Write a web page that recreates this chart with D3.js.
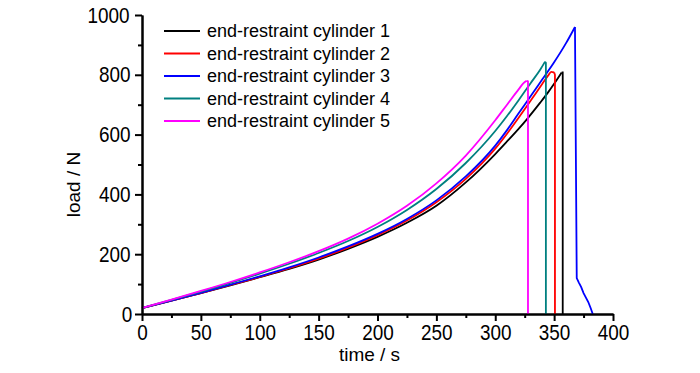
<!DOCTYPE html>
<html>
<head>
<meta charset="UTF-8" />
<script src="https://d3js.org/d3.v7.min.js"></script>
<style>
  body { margin: 0; background: #fff; font-family: "Liberation Sans", Arial, sans-serif; }
  .axis path, .axis line { stroke: #000; stroke-width: 2px; }
  .axis text { font-size: 22px; fill: #000; font-family: "Liberation Sans", Arial, sans-serif;
               transform-box: fill-box; transform-origin: center; transform: scaleX(0.86); }
  .title { font-size: 19px; }
</style>
</head>
<body>
<svg width="700" height="373"></svg>
<script>
  // legend names + colours
  const names = ["end-restraint cylinder 1", "end-restraint cylinder 2", "end-restraint cylinder 3",
                 "end-restraint cylinder 4", "end-restraint cylinder 5"];
  const colors = ["#000000", "#ff0000", "#0000ff", "#008080", "#ff00ff"];

  // time (s) / load (N) per cylinder (rising part)
  const t1 = [0, 25, 50, 75, 100, 125, 150, 175, 200, 225, 250, 275, 300, 310, 320, 327, 338, 345, 350, 356.4];
  const l1 = [20, 45, 70, 96, 123, 151, 182, 218, 258, 305, 362, 440, 535, 577, 620, 652, 706, 742, 770, 808];
  const t2 = [0, 25, 50, 75, 100, 125, 150, 175, 200, 225, 250, 275, 300, 310, 320, 330, 340, 345, 347.5, 350];
  const l2 = [20, 45, 70, 97, 124, 153, 185, 222, 264, 313, 374, 452, 553, 603, 657, 713, 770, 798, 810, 808];
  const t3 = [0, 25, 50, 75, 100, 125, 150, 175, 200, 225, 250, 275, 300, 310, 320, 330, 340, 350, 360, 367.7];
  const l3 = [20, 45, 71, 98, 126, 156, 189, 226, 268, 318, 380, 460, 563, 615, 672, 728, 785, 842, 905, 960];
  const t4 = [0, 25, 50, 75, 100, 125, 150, 175, 200, 225, 250, 275, 300, 310, 320, 330, 338, 342.3];
  const l4 = [20, 47, 75, 104, 135, 168, 204, 244, 291, 348, 418, 505, 612, 662, 716, 772, 816, 844];
  const t5 = [0, 25, 50, 75, 100, 125, 150, 175, 200, 225, 250, 275, 300, 310, 320, 324, 326.7];
  const l5 = [20, 48, 77, 107, 139, 173, 210, 252, 302, 362, 437, 530, 648, 700, 752, 772, 780];

  // failure part (after peak)
  const tailT1 = [357.3, 357.3];
  const tailL1 = [808, 0];
  const tailT2 = [350.7, 350.7];
  const tailL2 = [800, 0];
  const tailT3 = [369.2, 371, 373, 375, 377, 379, 381, 382.8];
  const tailL3 = [120, 105, 90, 70, 55, 40, 20, 0];
  const tailT4 = [343, 343];
  const tailL4 = [840, 0];
  const tailT5 = [327.8, 327.8];
  const tailL5 = [778, 0];

  const times = [t1, t2, t3, t4, t5];
  const loads = [l1, l2, l3, l4, l5];
  const tailTimes = [tailT1, tailT2, tailT3, tailT4, tailT5];
  const tailLoads = [tailL1, tailL2, tailL3, tailL4, tailL5];

  const xTicks = [0, 50, 100, 150, 200, 250, 300, 350, 400];
  const yTicks = [0, 200, 400, 600, 800, 1000];

  const svg = d3.select("svg");
  const margin = { left: 142, top: 15, right: 87, bottom: 59 };
  const width = 700 - margin.left - margin.right,
        height = 373 - margin.top - margin.bottom;

  const g = svg.append("g").attr("transform", `translate(${margin.left},${margin.top})`);

  const x = d3.scaleLinear().domain([0, 400]).range([0, width]);
  const y = d3.scaleLinear().domain([0, 1000]).range([height, 0]);

  // minor ticks
  g.append("g").attr("class", "axis").attr("transform", `translate(0,${height})`)
    .call(d3.axisBottom(x).tickValues(d3.range(25, 400, 50)).tickSize(4).tickSizeOuter(0).tickFormat(""));
  g.append("g").attr("class", "axis")
    .call(d3.axisLeft(y).tickValues(d3.range(100, 1000, 200)).tickSize(4).tickSizeOuter(0).tickFormat(""));

  // data lines: smooth rise, then straight drop
  const rise = d3.line().x(d => x(d[0])).y(d => y(d[1])).curve(d3.curveMonotoneX);
  const drop = d3.line().x(d => x(d[0])).y(d => y(d[1]));
  times.forEach((ts, i) => {
    const pts = ts.map((t, j) => [t, loads[i][j]]);
    const tail = [pts[pts.length - 1]].concat(tailTimes[i].map((t, j) => [t, tailLoads[i][j]]));
    g.append("path").datum(pts)
      .attr("fill", "none").attr("stroke", colors[i]).attr("stroke-width", 1.8)
      .attr("d", rise);
    g.append("path").datum(tail)
      .attr("fill", "none").attr("stroke", colors[i]).attr("stroke-width", 1.8)
      .attr("d", drop);
  });

  // major axes
  g.append("g").attr("class", "axis").attr("transform", `translate(0,${height})`)
    .call(d3.axisBottom(x).tickValues(xTicks).tickSize(7).tickSizeOuter(0).tickPadding(3).tickFormat(d3.format("d")));
  g.append("g").attr("class", "axis")
    .call(d3.axisLeft(y).tickValues(yTicks).tickSize(7).tickSizeOuter(0).tickPadding(2).tickFormat(d3.format("d")));

  // axis titles
  svg.append("text").attr("class", "title")
    .attr("x", margin.left + x(200) - 8)
    .attr("y", 361)
    .attr("text-anchor", "middle")
    .text("time / s");
  svg.append("text").attr("class", "title")
    .attr("transform", `translate(80,${margin.top + y(500) + 20}) rotate(-90)`)
    .attr("text-anchor", "middle")
    .text("load / N");

  // legend
  const legend = svg.append("g").attr("transform", "translate(164,31)");
  names.forEach((n, i) => {
    const row = legend.append("g").attr("transform", `translate(0,${i * 22.5})`);
    row.append("line").attr("x1", 0).attr("x2", 36).attr("stroke", colors[i]).attr("stroke-width", 1.8);
    row.append("text").attr("x", 43).attr("y", 6).style("font-size", "18px").text(n);
  });
</script>
</body>
</html>
